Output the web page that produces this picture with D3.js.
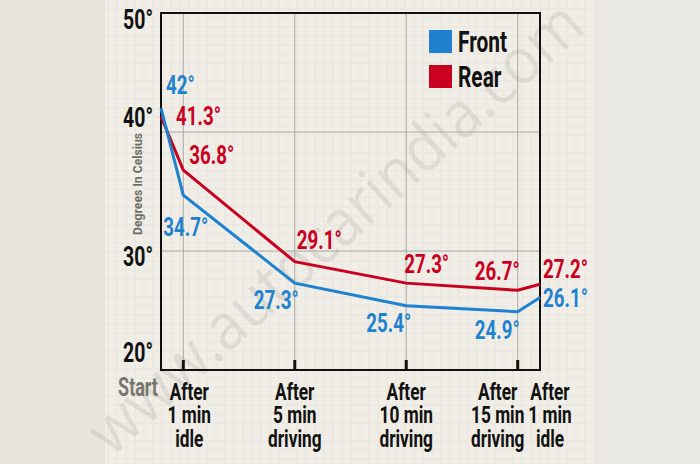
<!DOCTYPE html>
<html>
<head>
<meta charset="utf-8">
<script src="https://cdn.jsdelivr.net/npm/d3@7"></script>
<style>
  html, body { margin: 0; padding: 0; background: #e4e2db; }
  svg { display: block; }
  text { font-family: Roboto, "Liberation Sans", sans-serif; font-weight: bold; }
</style>
</head>
<body>
<svg id="chart" width="700" height="464"></svg>
<script>
// elapsed minutes at each reading
const minutes = [0, 1, 6, 11, 16, 17];
const categories = ["Start", "After|1 min|idle", "After|5 min|driving", "After|10 min|driving", "After|15 min|driving", "After|1 min|idle"];
const front = [42, 34.7, 27.3, 25.4, 24.9, 26.1];
const rear = [41.3, 36.8, 29.1, 27.3, 26.7, 27.2];
const yTicks = [20, 30, 40, 50];

const BLUE = "#1e82d0";
const RED = "#c9001f";
const K = 0.72; // horizontal squeeze to fake a condensed face

const svg = d3.select("#chart");

// page backdrop + card
const defs = svg.append("defs");
const grad = defs.append("linearGradient").attr("id", "bg").attr("x1", 0).attr("x2", 1);
grad.append("stop").attr("offset", "0%").attr("stop-color", "#e6e4dc");
grad.append("stop").attr("offset", "100%").attr("stop-color", "#e9e8e3");
svg.append("rect").attr("width", 700).attr("height", 464).attr("fill", "url(#bg)");

const pat = defs.append("pattern").attr("id", "cells")
  .attr("width", 9).attr("height", 9).attr("patternUnits", "userSpaceOnUse");
pat.append("rect").attr("width", 9).attr("height", 9).attr("fill", "#ebe9e1");
pat.append("rect").attr("x", 1).attr("y", 1).attr("width", 7).attr("height", 7).attr("fill", "#f0eee7");

svg.append("rect").attr("x", 105).attr("y", 0).attr("width", 490).attr("height", 464)
  .attr("fill", "url(#cells)");

// watermark
svg.append("text")
  .attr("transform", "translate(112,458) rotate(-42)")
  .attr("textLength", 640).attr("lengthAdjust", "spacingAndGlyphs")
  .style("font-weight", "normal").style("font-family", "'Open Sans', sans-serif")
  .attr("font-size", 64).attr("fill", "#000").attr("fill-opacity", 0.075)
  .text("www.autocarindia.com");

const x = d3.scaleLinear().domain([0, 17]).range([161, 540]);
const y = d3.scaleLinear().domain([20, 50]).range([370, 13]);

function squeezed(g, tx, ty, str, size, fill, anchor) {
  return g.append("text")
    .attr("transform", `translate(${tx},${ty}) scale(${K},1)`)
    .attr("font-size", size).attr("fill", fill)
    .attr("text-anchor", anchor || "start")
    .text(str);
}

const grid = svg.append("g");
grid.selectAll(".vg").data(minutes.slice(1, 5)).enter().append("line")
  .attr("x1", d => x(d)).attr("x2", d => x(d))
  .attr("y1", y(50)).attr("y2", y(20))
  .attr("stroke", "#a9a8a3").attr("stroke-width", 1);
grid.selectAll(".hg").data([30, 40]).enter().append("line")
  .attr("x1", x(0)).attr("x2", x(17))
  .attr("y1", d => y(d)).attr("y2", d => y(d))
  .attr("stroke", "#a9a8a3").attr("stroke-width", 1);

// frame
svg.append("rect")
  .attr("x", x(0)).attr("y", y(50))
  .attr("width", x(17) - x(0)).attr("height", y(20) - y(50))
  .attr("fill", "none").attr("stroke", "#111").attr("stroke-width", 2);

// ticks at the bottom
svg.selectAll(".tk").data(minutes.slice(1, 5)).enter().append("line")
  .attr("x1", d => x(d)).attr("x2", d => x(d))
  .attr("y1", y(20) - 10).attr("y2", y(20))
  .attr("stroke", "#111").attr("stroke-width", 3);

// y labels (nudged like the original artwork)
const yNudge = { 50: 6, 40: -15, 30: 5, 20: -18 };
const yl = svg.append("g");
yTicks.forEach(v => {
  squeezed(yl, 153, y(v) + yNudge[v] + 10, v + "°", 27, "#111", "end");
});

svg.append("text")
  .attr("transform", `translate(142,${184}) rotate(-90)`)
  .attr("text-anchor", "middle").attr("font-size", 13).attr("fill", "#6d6c68")
  .attr("textLength", 102).attr("lengthAdjust", "spacingAndGlyphs")
  .text("Degrees In Celsius");

// x labels, one text per category, lines as tspans
const xNudge = [-23, 6, 0, 0, -20, 10];
const xl = svg.append("g");
categories.forEach((c, i) => {
  const cx = x(minutes[i]) + xNudge[i];
  if (i === 0) {
    squeezed(xl, cx, 396, c, 25, "#77766f", "middle");
    return;
  }
  const t = squeezed(xl, cx, 400, null, 24, "#111", "middle");
  c.split("|").forEach((ln, j) => {
    t.append("tspan").attr("x", 0).attr("y", j * 23.5).text(ln);
  });
});

// lines
const line = d3.line().x((d, i) => x(minutes[i])).y(d => y(d));
svg.append("path").datum(rear).attr("d", line)
  .attr("fill", "none").attr("stroke", RED).attr("stroke-width", 3);
svg.append("path").datum(front).attr("d", line)
  .attr("fill", "none").attr("stroke", BLUE).attr("stroke-width", 3);

// value labels: [dx, dy baseline, anchor]
const rearPlace = [[15, 8, "start"], [6, -6, "start"], [2, -13, "start"], [-2, -10, "start"], [2, -10, "end"], [3, -6, "start"]];
const frontPlace = [[5, -14, "start"], [-20, 41, "start"], [4, 26, "end"], [5, 26, "end"], [2, 27, "end"], [3, 10, "start"]];
const vl = svg.append("g");
rear.forEach((v, i) => {
  const p = rearPlace[i];
  squeezed(vl, x(minutes[i]) + p[0], y(v) + p[1], v + "°", 26, RED, p[2]);
});
front.forEach((v, i) => {
  const p = frontPlace[i];
  squeezed(vl, x(minutes[i]) + p[0], y(v) + p[1], v + "°", 26, BLUE, p[2]);
});

// legend
const lg = svg.append("g");
[["Front", BLUE], ["Rear", RED]].forEach((s, i) => {
  lg.append("rect").attr("x", 429).attr("y", 30 + i * 35)
    .attr("width", 23).attr("height", 23).attr("fill", s[1]);
  squeezed(lg, 458, 52 + i * 35, s[0], 29, "#111", "start");
});
</script>
</body>
</html>
